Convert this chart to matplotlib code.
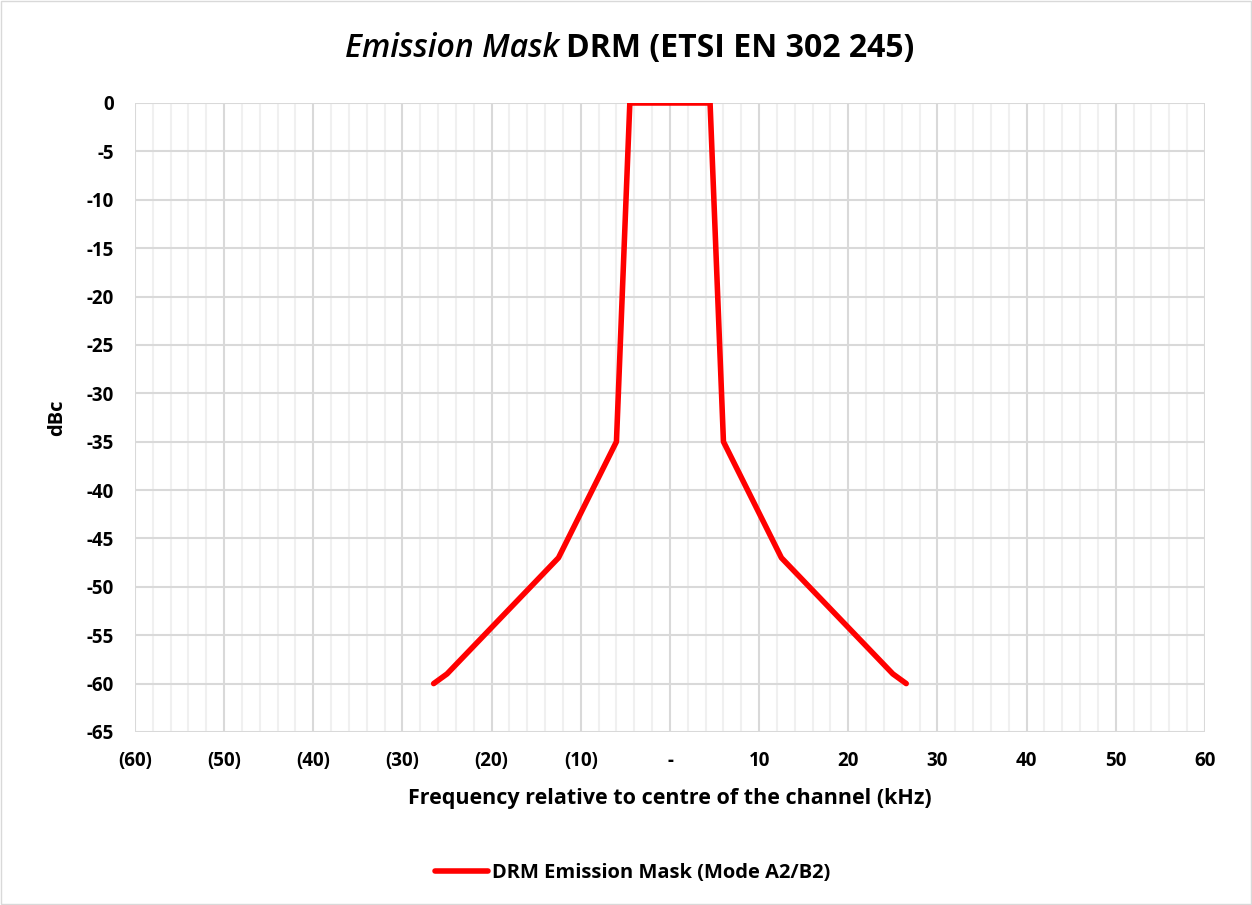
import matplotlib
matplotlib.use("Agg")
import matplotlib.pyplot as plt
from matplotlib.ticker import MultipleLocator, FuncFormatter
from matplotlib.patches import Rectangle

# mask points (kHz, dBc)
freq = [-26.5, -25, -12.5, -6, -4.5, 4.5, 6, 12.5, 25, 26.5]
level = [-60, -59, -47, -35, 0, 0, -35, -47, -59, -60]

plt.rcParams['font.family'] = ['Open Sans', 'DejaVu Sans']

fig = plt.figure(figsize=(12.52, 9.05), dpi=100)
ax = fig.add_axes([0.1078, 0.1912, 0.8546, 0.695])

ax.plot(freq, level, color="#ff0000", lw=4, solid_capstyle="round",
        solid_joinstyle="round", label="DRM Emission Mask (Mode A2/B2)", zorder=3)

ax.set_xlim(-60, 60)
ax.set_ylim(-65, 0)
ax.xaxis.set_major_locator(MultipleLocator(10))
ax.xaxis.set_minor_locator(MultipleLocator(2))
ax.yaxis.set_major_locator(MultipleLocator(5))

def fmt_x(v, pos):
    v = int(round(v))
    if v == 0:
        return "-"
    if v < 0:
        return "(%d)" % -v
    return str(v)

ax.xaxis.set_major_formatter(FuncFormatter(fmt_x))
ax.yaxis.set_major_formatter(FuncFormatter(lambda v, p: "%d" % v))

ax.grid(which="major", color="#d9d9d9", lw=1.5)
ax.grid(which="minor", axis="x", color="#f0f0f0", lw=1.5)
ax.set_axisbelow(True)
for s in ax.spines.values():
    s.set_visible(False)
ax.tick_params(which="both", length=0)
ax.tick_params(axis="x", pad=14)
ax.tick_params(axis="y", pad=15)
for lab in ax.get_xticklabels() + ax.get_yticklabels():
    lab.set_fontsize(13.5)
    lab.set_fontweight("bold")

ax.set_xlabel("Frequency relative to centre of the channel (kHz)", fontsize=15.5,
              fontweight="bold", labelpad=12)
ax.set_ylabel("dBc", fontsize=14.5, fontweight="bold", labelpad=14)

fig.text(0.447, 0.946, "Emission Mask", ha="right", va="center",
         fontsize=23, style="italic", fontweight="semibold")
fig.text(0.452, 0.946, "DRM (ETSI EN 302 245)", ha="left", va="center",
         fontsize=23, fontweight="bold")

ax.legend(loc="center", bbox_to_anchor=(0.465, -0.225), frameon=False,
          prop={"size": 14.5, "weight": "bold"}, handlelength=2.6, handletextpad=0.2)

fig.add_artist(Rectangle((0.001, 0.001), 0.998, 0.998, transform=fig.transFigure,
                         fill=False, edgecolor="#d9d9d9", lw=1))

fig.savefig("out.png", dpi=100)
